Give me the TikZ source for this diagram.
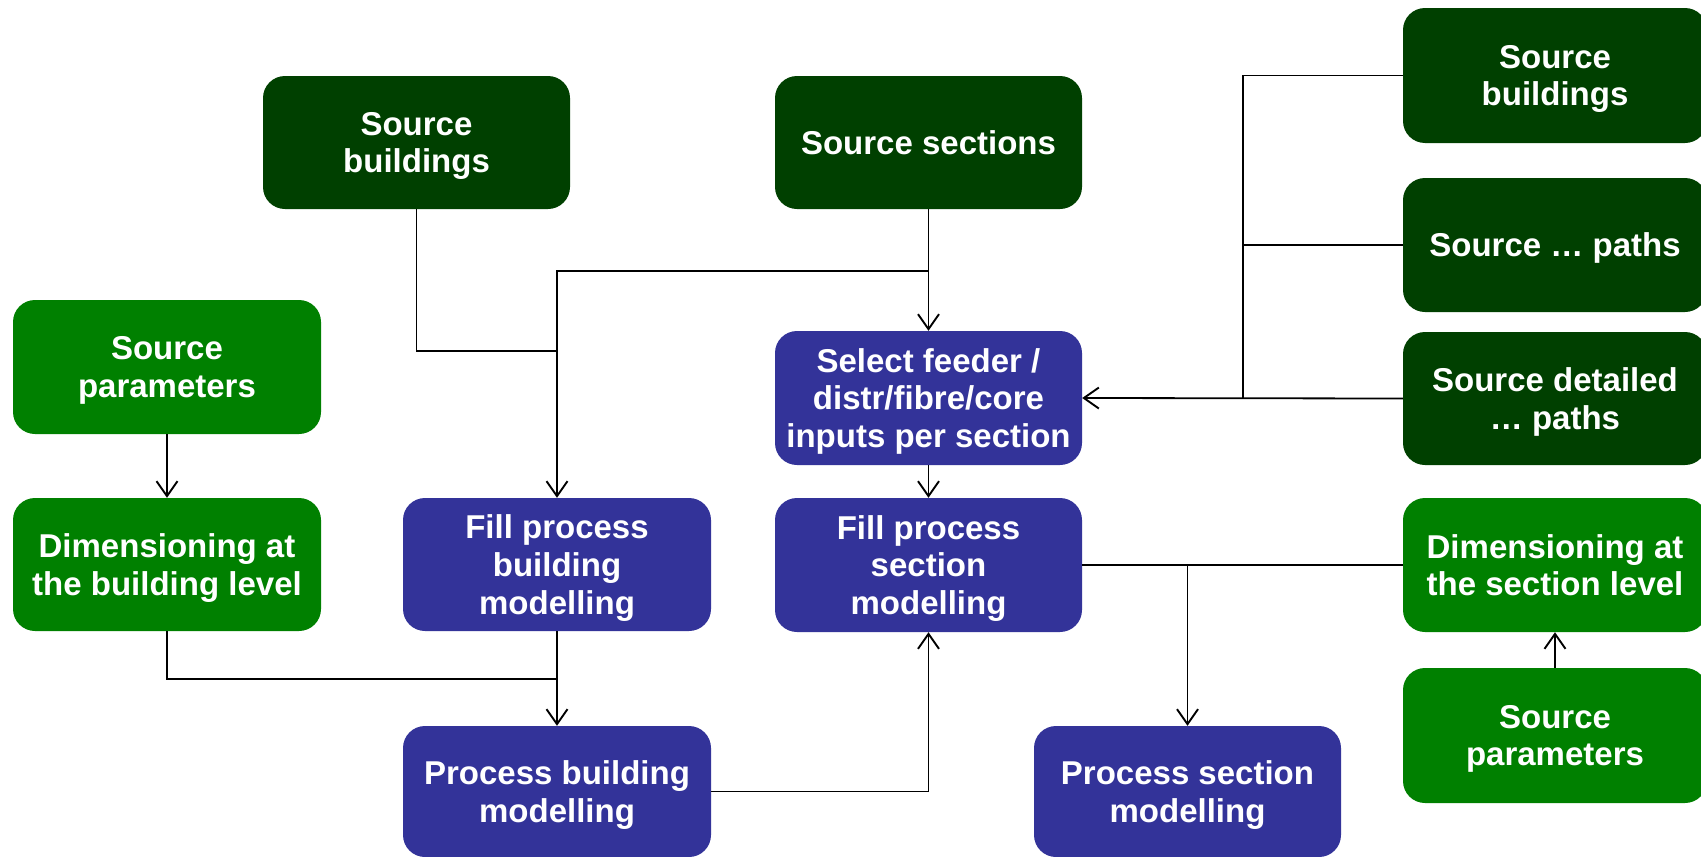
\documentclass[tikz,border=0pt]{standalone}
\usepackage{fontspec}
\setmainfont{Liberation Sans}
\usetikzlibrary{arrows.meta}
\definecolor{dkgreen}{RGB}{0,64,0}
\definecolor{ltgreen}{RGB}{0,128,0}
\definecolor{navy}{RGB}{51,51,153}
\begin{document}
\begin{tikzpicture}[x=1pt,y=-1pt,
  box/.style={rectangle, rounded corners=22pt, draw=none, text=white, align=center,
    font=\bfseries\fontsize{33}{37.6}\selectfont, text depth=-5pt,
    minimum width=307pt, minimum height=133pt, inner sep=0pt},
  src/.style={box, fill=dkgreen},
  par/.style={box, fill=ltgreen},
  proc/.style={box, fill=navy},
  rbox/.style={minimum width=304pt},
  conn/.style={draw=black, line width=1.8pt},
  arr/.style={conn, -{Straight Barb[length=15pt,width=21pt,line width=1.9pt]}}]
\useasboundingbox (0,0) rectangle (1701,857);
% top row
\node[src] (sb1) at (416.5,142.5) {Source\\buildings};
\node[src] (ss) at (928.5,142.5) {Source sections};
% right sources
\node[src,rbox,minimum height=135pt] (sb2) at (1555,75.5) {Source\\buildings};
\node[src,rbox,minimum height=134pt] (sp) at (1555,245) {Source \dots\ paths};
\node[src,rbox] (sd) at (1555,398.5) {Source detailed\\\dots\ paths};
% middle
\node[proc,minimum height=134pt] (sel) at (928.5,398) {Select feeder /\\distr/fibre/core\\inputs per section};
\node[proc,minimum height=134pt] (fps) at (928.5,565) {Fill process\\section\\modelling};
% left
\node[par,minimum width=308pt,minimum height=134pt] (spl) at (167,367) {Source\\parameters};
\node[par,minimum width=308pt] (dbl) at (167,564.5) {Dimensioning at\\the building level};
\node[proc,minimum width=308pt] (fpb) at (557,564.5) {Fill process\\building\\modelling};
\node[proc,minimum width=308pt,minimum height=131pt] (pb) at (557,791.5) {Process building\\modelling};
\node[proc,minimum height=131pt] (ps) at (1187.5,791.5) {Process section\\modelling};
% right green
\node[par,rbox,minimum height=134pt] (dsl) at (1555,565) {Dimensioning at\\the section level};
\node[par,rbox,minimum height=135pt] (spr) at (1555,735.5) {Source\\parameters};
% junction coordinates
\coordinate (j1) at (928.5,271);
\coordinate (j2) at (557,351);
\coordinate (j3) at (1243,75.5);
\coordinate (j4) at (1243,398.5);
\coordinate (j5) at (557,679);
\coordinate (j6) at (1187.5,565);
% connectors
\draw[arr] (ss.south) -- (sel.north);
\draw[arr] (j1) -| (fpb.north);
\draw[conn] (sb1.south) |- (j2);
\draw[conn] (sb2.west) -- (j3) -- (j4);
\draw[conn] (sp.west) -- (sp.west -| j3);
\draw[arr] (sd.west) -- (sel.east);
\draw[arr] (sel.south) -- (fps.north);
\draw[arr] (spl.south) -- (dbl.north);
\draw[conn] (dbl.south) |- (j5);
\draw[arr] (fpb.south) -- (pb.north);
\draw[arr] (pb.east) -| (fps.south);
\draw[conn] (fps.east) -- (dsl.west);
\draw[arr] (j6) -- (ps.north);
\draw[arr] (spr.north) -- (dsl.south);
\end{tikzpicture}
\end{document}
